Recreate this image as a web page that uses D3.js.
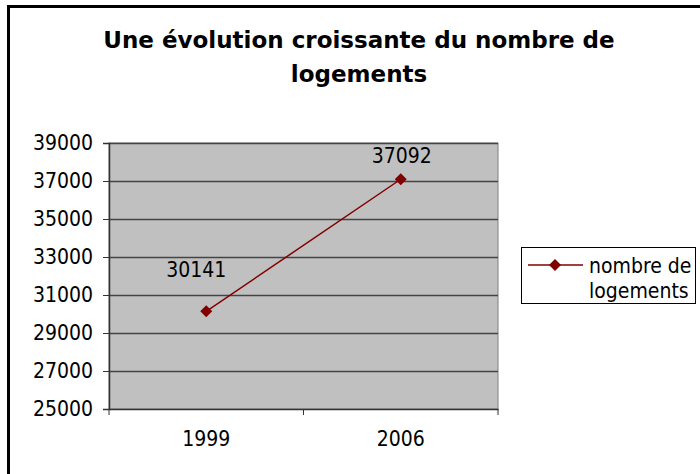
<!DOCTYPE html>
<html><head><meta charset="utf-8">
<script src="https://cdn.jsdelivr.net/npm/d3@7"></script>
<style>
html,body{margin:0;padding:0;background:#fff;}
svg text{font-family:"DejaVu Sans Condensed","DejaVu Sans",sans-serif;font-stretch:condensed;}
svg text.title{font-family:"DejaVu Sans",sans-serif;font-stretch:normal;}
</style></head>
<body>
<svg id="chart" width="700" height="474"></svg>
<script>
const titleLines = ["Une évolution croissante du nombre de", "logements"];
const categories = ["1999", "2006"];
const values = [30141, 37092];
const yTicks = [25000, 27000, 29000, 31000, 33000, 35000, 37000, 39000];
const seriesName = ["nombre de", "logements"];

const svg = d3.select("#chart");
const plot = {left:109, top:143, right:498, bottom:409};
const color = "#800000";
const labelShift = [[-10,-34],[1,-16]];

svg.append("rect").attr("x",8.5).attr("y",6.5).attr("width",720).attr("height",500)
  .attr("fill","#fff").attr("stroke","#000").attr("stroke-width",3);

const title = svg.append("text").attr("class","title").attr("text-anchor","middle").attr("font-weight","bold")
  .attr("font-size",23).attr("fill","#000");
titleLines.forEach((t,i)=>title.append("tspan").attr("x",359).attr("y",48+i*34).text(t));

const x = d3.scaleBand().domain(categories).range([plot.left, plot.right]);
const y = d3.scaleLinear().domain([25000,39000]).range([plot.bottom, plot.top]);

svg.append("rect").attr("x",plot.left).attr("y",plot.top)
  .attr("width",plot.right-plot.left).attr("height",plot.bottom-plot.top)
  .attr("fill","#c0c0c0").attr("stroke","#808080").attr("stroke-width",1);

svg.append("g").selectAll("line").data(yTicks.slice(1)).join("line")
  .attr("x1",plot.left).attr("x2",plot.right)
  .attr("y1",d=>Math.round(y(d))+0.5).attr("y2",d=>Math.round(y(d))+0.5)
  .attr("stroke","#444").attr("stroke-width",1.5);

const yAxis = svg.append("g").attr("transform",`translate(${plot.left},0)`)
  .call(d3.axisLeft(y).tickValues(yTicks).tickSize(6).tickPadding(10).tickFormat(d3.format("d")));
yAxis.select(".domain").attr("stroke","#333").attr("stroke-width",1.5);
yAxis.selectAll(".tick line").attr("stroke","#333");
yAxis.selectAll(".tick text").attr("font-size",21).attr("fill","#000")
  .attr("font-family",null);

const xAxis = svg.append("g").attr("transform",`translate(0,${plot.bottom})`)
  .call(d3.axisBottom(x).tickSize(0).tickPadding(22));
xAxis.select(".domain").attr("stroke","#333").attr("stroke-width",1.5);
xAxis.selectAll(".tick text").attr("font-size",21).attr("fill","#000").attr("font-family",null);
const bounds = [plot.left, ...categories.map(c=>x(c)+x.bandwidth())];
svg.append("g").selectAll("line").data(bounds).join("line")
  .attr("x1",d=>d).attr("x2",d=>d).attr("y1",plot.bottom).attr("y2",plot.bottom+6)
  .attr("stroke","#333").attr("stroke-width",1);

const cx = d=>x(d)+x.bandwidth()/2;
const pts = categories.map((c,i)=>[cx(c), y(values[i])]);
svg.append("path").attr("d",d3.line()(pts)).attr("fill","none")
  .attr("stroke",color).attr("stroke-width",1.5);
svg.append("g").selectAll("path").data(pts).join("path")
  .attr("transform",d=>`translate(${d[0]},${d[1]}) rotate(45)`)
  .attr("d",d3.symbol().type(d3.symbolSquare).size(72)).attr("fill",color);

svg.append("g").selectAll("text").data(categories).join("text")
  .attr("x",(c,i)=>cx(c)+labelShift[i][0]).attr("y",(c,i)=>y(values[i])+labelShift[i][1])
  .attr("text-anchor","middle").attr("font-size",21).attr("fill","#000")
  .text((c,i)=>values[i]);

const lg = svg.append("g");
lg.append("rect").attr("x",521.5).attr("y",247.5).attr("width",174).attr("height",56)
  .attr("fill","#fff").attr("stroke","#000").attr("stroke-width",1);
lg.append("line").attr("x1",528).attr("x2",583).attr("y1",265).attr("y2",265)
  .attr("stroke",color).attr("stroke-width",1.5);
lg.append("path").attr("transform","translate(555,265) rotate(45)")
  .attr("d",d3.symbol().type(d3.symbolSquare).size(72)).attr("fill",color);
seriesName.forEach((t,i)=>lg.append("text").attr("x",589).attr("y",273+i*25)
  .attr("font-size",21).attr("fill","#000").text(t));
</script>
</body></html>
